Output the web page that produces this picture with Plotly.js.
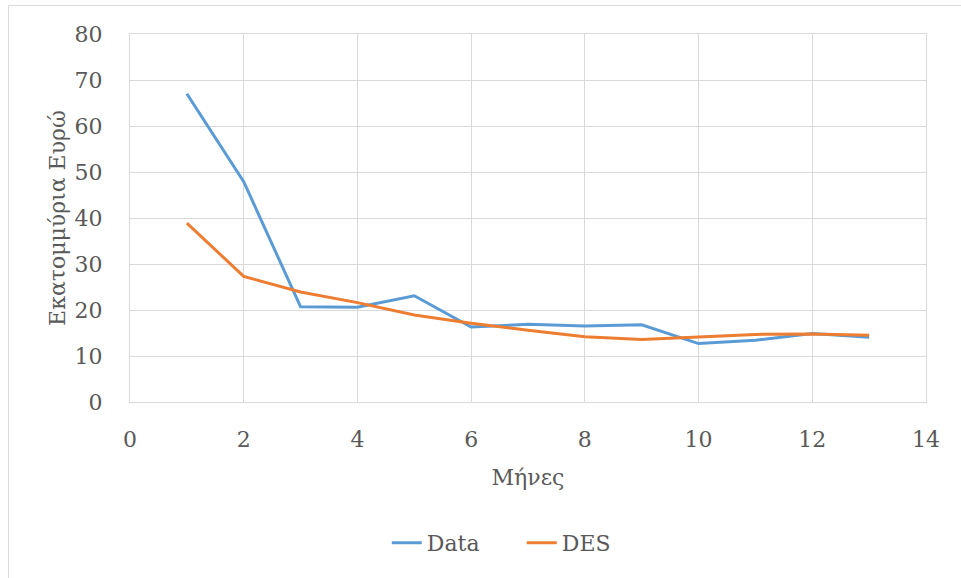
<!DOCTYPE html>
<html>
<head>
<meta charset="utf-8">
<script src="https://cdn.plot.ly/plotly-3.0.1.min.js"></script>
<style>
  html, body { margin: 0; padding: 0; background: #fff; }
  #frame { position: absolute; left: 8px; top: 5px; width: 970px; height: 590px; border: 1px solid #d9d9d9; box-sizing: border-box; }
  #chart { position: absolute; left: 0; top: 0; width: 961px; height: 578px; }
</style>
</head>
<body>
<div id="frame"></div>
<div id="chart"></div>
<script>
// Months and monthly values (million euros)
const months = [1, 2, 3, 4, 5, 6, 7, 8, 9, 10, 11, 12, 13];
const dataValues = [67.0, 47.9, 20.7, 20.6, 23.1, 16.3, 16.9, 16.5, 16.8, 12.7, 13.4, 14.9, 14.1];
const desValues  = [38.9, 27.3, 23.9, 21.6, 18.9, 17.1, 15.6, 14.2, 13.6, 14.2, 14.7, 14.8, 14.5];
const xTicks = [0, 2, 4, 6, 8, 10, 12, 14];
const yTicks = [0, 10, 20, 30, 40, 50, 60, 70, 80];

const font = { family: 'DejaVu Serif, serif', size: 22, color: '#595959' };

const traces = [
  { x: months, y: dataValues, name: 'Data', type: 'scatter', mode: 'lines',
    line: { color: '#5b9bd5', width: 3 } },
  { x: months, y: desValues, name: 'DES', type: 'scatter', mode: 'lines',
    line: { color: '#ed7d31', width: 3 } }
];

const axisCommon = {
  showgrid: true, gridcolor: '#d9d9d9', gridwidth: 1,
  showline: true, linecolor: '#d9d9d9', linewidth: 1, mirror: true,
  zeroline: false, ticks: '', tickfont: font, fixedrange: true
};

const layout = {
  width: 961, height: 578,
  margin: { l: 130, r: 35, t: 34, b: 176 },
  paper_bgcolor: 'rgba(0,0,0,0)', plot_bgcolor: 'rgba(0,0,0,0)',
  font: font,
  showlegend: true,
  legend: { orientation: 'h', x: 0.3226, xanchor: 'left', y: -0.383, yanchor: 'middle',
            font: font, tracegroupgap: 0, entrywidth: 90, entrywidthmode: 'pixels' },
  xaxis: Object.assign({}, axisCommon, {
    range: [0, 14], tickvals: xTicks, ticktext: xTicks.map(String),
    ticklabelstandoff: 18,
    title: { text: 'Μήνες', font: font, standoff: 18 }
  }),
  yaxis: Object.assign({}, axisCommon, {
    range: [0, 80], tickvals: yTicks, ticktext: yTicks.map(String),
    ticklabelstandoff: 22,
    title: { text: 'Εκατομμύρια Ευρώ', font: font, standoff: 2 }
  })
};

Plotly.newPlot('chart', traces, layout, { displayModeBar: false, staticPlot: true });
</script>
</body>
</html>
